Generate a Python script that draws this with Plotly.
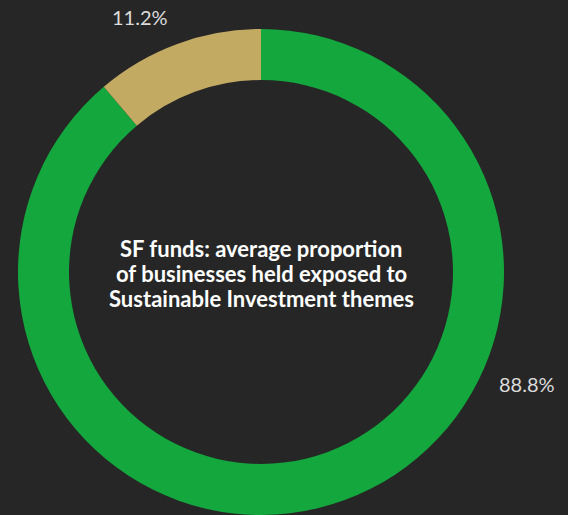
import plotly.graph_objects as go

categories = ["Exposed to Sustainable Investment themes", "Not exposed"]
values = [88.8, 11.2]
colors = ["#13a73d", "#c3aa63"]
center_lines = ["SF funds: average proportion",
                "of businesses held exposed to",
                "Sustainable Investment themes"]

W, H = 568, 515
fig = go.Figure(go.Pie(
    labels=categories,
    values=values,
    hole=0.79,
    sort=False,
    direction="clockwise",
    rotation=0,
    marker=dict(colors=colors, line=dict(width=0)),
    textinfo="none",
    hoverinfo="label+percent",
    domain=dict(x=[17 / W, 505 / W], y=[0, 486 / H]),
    showlegend=False,
))

label_pos = [(527, 384), (140, 17)]
annotations = []
for v, (px, py) in zip(values, label_pos):
    annotations.append(dict(
        text=f"{v}%", x=px / W, y=1 - py / H, xref="paper", yref="paper",
        showarrow=False, font=dict(family="Lato", size=20, color="#dcdcdc"),
        xanchor="center", yanchor="middle",
    ))
for i, line in enumerate(center_lines):
    annotations.append(dict(
        text=line, x=261 / W, y=1 - (248 + 25 * i) / H, xref="paper", yref="paper",
        showarrow=False, font=dict(family="Lato", size=22, color="#ffffff", weight="bold"),
        xanchor="center", yanchor="middle", align="center",
    ))

fig.update_layout(
    width=W, height=H,
    margin=dict(l=0, r=0, t=0, b=0),
    paper_bgcolor="#262626",
    plot_bgcolor="#262626",
    annotations=annotations,
)
fig.write_html(
    "out.html",
    config={"displayModeBar": False},
    post_script="document.body.style.margin='0';document.body.style.overflow='hidden';document.body.style.background='#262626';",
)
